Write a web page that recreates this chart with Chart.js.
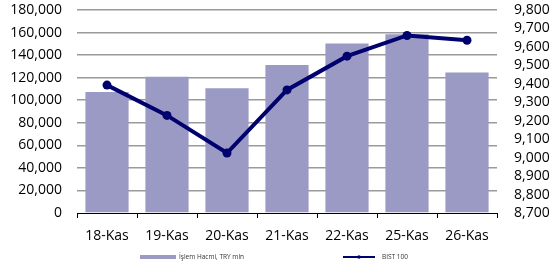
<!DOCTYPE html>
<html>
<head>
<meta charset="utf-8">
<script src="https://cdn.jsdelivr.net/npm/chart.js@4/dist/chart.umd.min.js"></script>
<style>
    html, body { margin: 0; padding: 0; background: #fff; }
    #wrap { width: 555px; height: 263px; position: relative; }
</style>
</head>
<body>
<div id="wrap"><canvas id="chart"></canvas></div>
<script>
// Data
const days = ['18-Kas', '19-Kas', '20-Kas', '21-Kas', '22-Kas', '25-Kas', '26-Kas'];
const volume = [107400, 120800, 110700, 131200, 150300, 158600, 124600];
const bist100 = [9393, 9229, 9025, 9367, 9550, 9662, 9636];

const volumeLabel = 'İşlem Hacmi, TRY mln';
const indexLabel = 'BIST 100';

const barColor = '#9a9ac4';
const lineColor = '#00006e';
const gridColor = '#9a9a9a';

Chart.defaults.font.family = '"Open Sans", "Liberation Sans", sans-serif';
Chart.defaults.color = '#000';

// Small legend under the axis, drawn the way the original spreadsheet did it
const bottomLegend = {
    id: 'bottomLegend',
    afterDraw(chart) {
        const c = chart.ctx;
        const y = 257;
        c.save();
        c.font = '6.5px "Open Sans", sans-serif';
        c.textBaseline = 'middle';

        c.fillStyle = barColor;
        c.fillRect(140, y - 2, 36, 4);
        c.fillStyle = '#333';
        c.fillText(volumeLabel, 179, y);

        c.strokeStyle = lineColor;
        c.lineWidth = 2;
        c.beginPath();
        c.moveTo(343, y);
        c.lineTo(375, y);
        c.stroke();
        c.fillStyle = lineColor;
        c.beginPath();
        c.arc(359, y, 1.8, 0, Math.PI * 2);
        c.fill();
        c.fillStyle = '#333';
        c.fillText(indexLabel, 382, y);
        c.restore();
    }
};

// keep the plot top close to the canvas edge like the original
function trimTop(scale) {
    scale.paddingTop = 0;
    scale.paddingBottom = 0;
}

const ctx = document.getElementById('chart').getContext('2d');

new Chart(ctx, {
    type: 'bar',
    data: {
        labels: days,
        datasets: [
            {
                type: 'line',
                label: indexLabel,
                data: bist100,
                yAxisID: 'y1',
                borderColor: lineColor,
                backgroundColor: lineColor,
                borderWidth: 4,
                pointRadius: 4.5,
                pointBackgroundColor: lineColor,
                pointBorderWidth: 0,
                tension: 0,
                order: 0
            },
            {
                label: volumeLabel,
                data: volume,
                yAxisID: 'y',
                backgroundColor: barColor,
                barPercentage: 0.72,
                categoryPercentage: 1,
                order: 1
            }
        ]
    },
    options: {
        responsive: true,
        maintainAspectRatio: false,
        animation: false,
        layout: {
            padding: { top: 10, bottom: 0, left: 0, right: 0 }
        },
        plugins: {
            legend: { display: false },
            tooltip: { enabled: false }
        },
        scales: {
            x: {
                offset: true,
                grid: {
                    offset: true,
                    drawOnChartArea: false,
                    drawTicks: true,
                    tickLength: 5,
                    color: '#000'
                },
                border: { display: true, color: '#000', width: 1 },
                ticks: {
                    padding: 10,
                    autoSkip: false,
                    font: { size: 14 },
                    maxRotation: 0
                },
                afterFit(scale) {
                    scale.height = 50;
                }
            },
            y: {
                position: 'left',
                min: 0,
                max: 180000,
                grid: {
                    drawTicks: false,
                    lineWidth: 1.5,
                    color: (c) => c.tick && c.tick.value === 0 ? 'rgba(0,0,0,0)' : gridColor
                },
                border: { display: false },
                ticks: {
                    stepSize: 20000,
                    autoSkip: false,
                    padding: 15,
                    font: { size: 14 },
                    callback: (v) => v.toLocaleString('en-US')
                },
                afterFit(scale) {
                    scale.width = 77;
                    trimTop(scale);
                }
            },
            y1: {
                position: 'right',
                min: 8700,
                max: 9800,
                grid: { drawOnChartArea: false, drawTicks: false },
                border: { display: false },
                ticks: {
                    stepSize: 100,
                    autoSkip: false,
                    padding: 17,
                    font: { size: 14 },
                    callback: (v) => v.toLocaleString('en-US')
                },
                afterFit(scale) {
                    scale.width = 58;
                    trimTop(scale);
                }
            }
        }
    },
    plugins: [bottomLegend]
});
</script>
</body>
</html>
